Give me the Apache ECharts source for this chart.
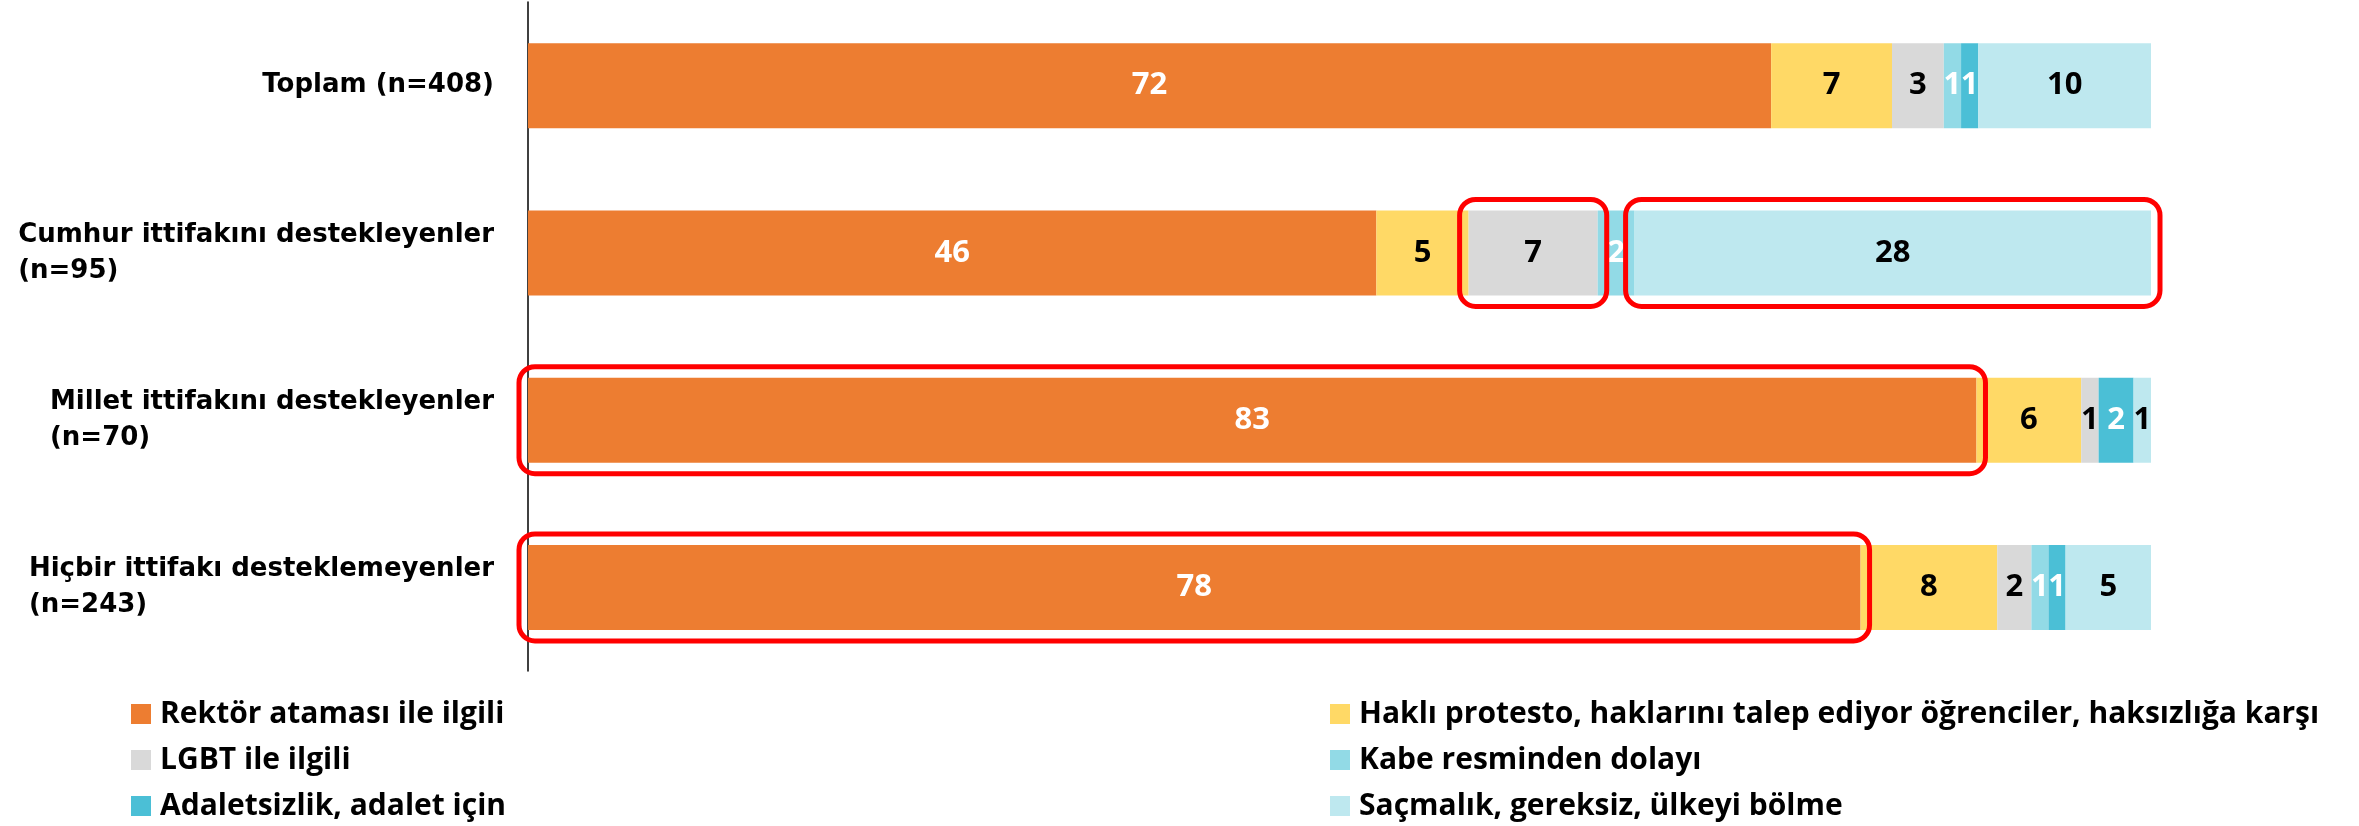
<!DOCTYPE html>
<html>
<head>
<meta charset="utf-8">
<title>Boğaziçi protestoları</title>
<script src="https://cdn.jsdelivr.net/npm/echarts@6/dist/echarts.min.js"></script>
<style>
html, body { margin: 0; padding: 0; background: #fff; }
#main { width: 2359px; height: 826px; }
</style>
</head>
<body>
<div id="main"></div>
<script>
var groups = ['Toplam (n=408)', 'Cumhur ittifakını destekleyenler\n(n=95)', 'Millet ittifakını destekleyenler\n(n=70)', 'Hiçbir ittifakı desteklemeyenler\n(n=243)'];
var seriesNames = ['Rektör ataması ile ilgili', 'Haklı protesto, haklarını talep ediyor öğrenciler, haksızlığa karşı', 'LGBT ile ilgili', 'Kabe resminden dolayı', 'Adaletsizlik, adalet için', 'Saçmalık, gereksiz, ülkeyi bölme'];

var rektor = [72, 46, 83, 78];
var hakli = [7, 5, 6, 8];
var lgbt = [3, 7, 1, 2];
var kabe = [1, 2, 0, 1];
var adalet = [1, 0, 2, 1];
var sacma = [10, 28, 1, 5];

var colors = ['#ED7D31', '#FFD966', '#D9D9D9', '#92DAE6', '#4BBFD6', '#BEE8EF'];
var labelColors = ['#fff', '#000', '#000', '#fff', '#fff', '#000'];

// red boxes in the original: [series, row]
var highlights = [[2, 1], [5, 1], [0, 2], [0, 3]];

var raw = [rektor, hakli, lgbt, kabe, adalet, sacma];
var BAR_H = 85;

// 100% stacked -> share of row total
var totals = groups.map(function (g, i) {
    var s = 0;
    raw.forEach(function (arr) { s += arr[i]; });
    return s;
});
var pct = raw.map(function (arr) {
    return arr.map(function (v, i) { return v / totals[i] * 100; });
});

var chart = echarts.init(document.getElementById('main'));

var series = raw.map(function (arr, si) {
    return {
        name: seriesNames[si],
        type: 'bar',
        stack: 'all',
        barWidth: BAR_H,
        data: pct[si],
        itemStyle: { color: colors[si] },
        label: {
            show: true,
            position: 'inside',
            color: labelColors[si],
            fontFamily: 'Open Sans',
            fontWeight: 'bold',
            fontSize: 31,
            formatter: function (p) {
                var v = raw[p.seriesIndex][p.dataIndex];
                return v ? String(v) : '';
            }
        }
    };
});

var legendText = {
    color: '#000',
    fontFamily: 'Open Sans',
    fontWeight: 'bold',
    fontSize: 30,
    lineHeight: 30,
    padding: [0, 0, 0, 4]
};

var option = {
    animation: false,
    color: colors,
    grid: { left: 528, right: 208, top: 2, bottom: 155 },
    xAxis: {
        type: 'value',
        min: 0,
        max: 100,
        show: false
    },
    yAxis: {
        type: 'category',
        inverse: true,
        data: groups,
        axisLine: { show: true, lineStyle: { color: '#000', width: 1.5 } },
        axisTick: { show: false },
        axisLabel: {
            margin: 34,
            formatter: function (val) {
                return val.split('\n').map(function (l) { return '{a|' + l + '}'; }).join('\n');
            },
            rich: {
                a: {
                    align: 'left',
                    color: '#000',
                    fontFamily: 'DejaVu Sans',
                    fontWeight: 'bold',
                    fontSize: 26,
                    lineHeight: 36
                }
            }
        }
    },
    legend: [{
        orient: 'vertical',
        left: 131,
        top: 699,
        padding: 0,
        itemWidth: 20,
        itemHeight: 20,
        itemGap: 16,
        icon: 'rect',
        selectedMode: false,
        textStyle: legendText,
        data: [seriesNames[0], seriesNames[2], seriesNames[4]]
    }, {
        orient: 'vertical',
        left: 1330,
        top: 699,
        padding: 0,
        itemWidth: 20,
        itemHeight: 20,
        itemGap: 16,
        icon: 'rect',
        selectedMode: false,
        textStyle: legendText,
        data: [seriesNames[1], seriesNames[3], seriesNames[5]]
    }],
    series: series
};

chart.setOption(option);

// draw the red highlight frames from the axis scales
function addHighlights() {
    var padX = 9, padY = 11;
    var els = highlights.map(function (h) {
        var s = h[0], r = h[1];
        var start = 0;
        for (var k = 0; k < s; k++) start += pct[k][r];
        var end = start + pct[s][r];
        var p0 = chart.convertToPixel({ xAxisIndex: 0, yAxisIndex: 0 }, [start, r]);
        var p1 = chart.convertToPixel({ xAxisIndex: 0, yAxisIndex: 0 }, [end, r]);
        return {
            type: 'rect',
            shape: {
                x: p0[0] - padX,
                y: p0[1] - BAR_H / 2 - padY,
                width: p1[0] - p0[0] + padX * 2,
                height: BAR_H + padY * 2,
                r: 16
            },
            style: { fill: 'none', stroke: '#FF0000', lineWidth: 5 },
            z: 100
        };
    });
    chart.setOption({ graphic: els });
}
addHighlights();
</script>
</body>
</html>
